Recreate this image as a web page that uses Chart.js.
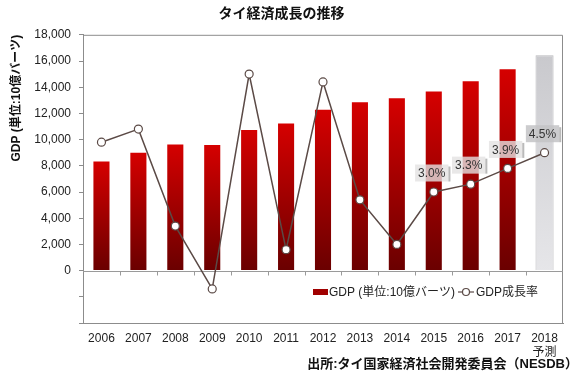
<!DOCTYPE html>
<html lang="ja">
<head>
<meta charset="utf-8">
<title>タイ経済成長の推移</title>
<script src="https://cdn.jsdelivr.net/npm/chart.js@4.4.1/dist/chart.umd.min.js"></script>
<style>
  html, body { margin: 0; padding: 0; background: #fff; }
  #wrap { width: 580px; height: 379px; }
</style>
</head>
<body>
<div id="wrap"><canvas id="gdpChart" width="580" height="379"></canvas></div>
<script>
// Thai GDP chart - data
const years = ['2006', '2007', '2008', '2009', '2010', '2011', '2012',
               '2013', '2014', '2015', '2016', '2017', ['2018', '予測']];
const gdpValues = [8400, 9080, 9710, 9660, 10810, 11310, 12360,
                   12920, 13230, 13740, 14530, 15450, 16440];
const growthRates = [4.9, 5.4, 1.7, -0.7, 7.5, 0.8, 7.2,
                     2.7, 1.0, 3.0, 3.3, 3.9, 4.5];
const yTickLabels = ['0', '2,000', '4,000', '6,000', '8,000', '10,000',
                     '12,000', '14,000', '16,000', '18,000'];

const FONT = '"Liberation Sans", Arial, "Noto Sans CJK JP", sans-serif';
const LINE_COLOR = '#5b4a46';
const firstLabelled = 9;   // growth labels shown from 2015 on
const lastIdx = years.length - 1;

// Bar fill: red gradient, grey for the forecast year
function barFill(ctx) {
    const chart = ctx.chart;
    if (!chart.chartArea || ctx.type !== 'data') return '#b00000';
    const y = chart.scales.y;
    const top = y.getPixelForValue(gdpValues[ctx.dataIndex]);
    const base = y.getPixelForValue(0);
    const g = chart.ctx.createLinearGradient(0, top, 0, base);
    if (ctx.dataIndex === lastIdx) {
        g.addColorStop(0, '#c9c9cd');
        g.addColorStop(1, '#e6e6e9');
    } else {
        g.addColorStop(0, '#d60000');
        g.addColorStop(1, '#6a0000');
    }
    return g;
}

// Plot frame + zero line with small ticks between categories
const plotFrame = {
    id: 'plotFrame',
    beforeDatasetsDraw(chart) {
        const c = chart.ctx, a = chart.chartArea;
        const xs = chart.scales.x, ys = chart.scales.y;
        c.save();
        c.strokeStyle = '#8c8c8c';
        c.lineWidth = 1;
        c.beginPath();
        c.moveTo(a.left, a.top + 0.5);
        c.lineTo(a.right - 0.5, a.top + 0.5);
        c.lineTo(a.right - 0.5, a.bottom);
        c.stroke();
        const zy = Math.round(ys.getPixelForValue(0)) + 0.5;
        c.strokeStyle = '#9a9a9a';
        c.beginPath();
        c.moveTo(a.left, zy);
        c.lineTo(a.right, zy);
        for (let i = 0; i < years.length - 1; i++) {
            const bx = Math.round((xs.getPixelForValue(i) + xs.getPixelForValue(i + 1)) / 2) + 0.5;
            c.moveTo(bx, zy);
            c.lineTo(bx, zy + 4);
        }
        c.stroke();
        c.restore();
    }
};

// Value boxes over the recent growth points
const growthLabels = {
    id: 'growthLabels',
    afterDatasetsDraw(chart) {
        const meta = chart.getDatasetMeta(1);
        const c = chart.ctx;
        c.save();
        c.font = '12px ' + FONT;
        c.textAlign = 'center';
        c.textBaseline = 'middle';
        meta.data.forEach(function(pt, i) {
            if (i < firstLabelled) return;
            const text = growthRates[i].toFixed(1) + '%';
            const w = c.measureText(text).width + 6, h = 17;
            const x = pt.x - 2, y = pt.y - 19;
            c.fillStyle = i === lastIdx ? 'rgba(195,195,198,0.85)' : 'rgba(228,226,226,0.8)';
            c.fillRect(x - w / 2, y - h / 2, w, h);
            c.fillStyle = 'rgba(140,140,140,0.6)';
            c.fillRect(x + w / 2, y - h / 2 + 2, 2, h - 2);
            c.fillStyle = '#333';
            c.fillText(text, x, y + 1);
        });
        c.restore();
    }
};

// Legend inside the lower part of the plot
const innerLegend = {
    id: 'innerLegend',
    afterDraw(chart) {
        const c = chart.ctx, a = chart.chartArea;
        const y = a.bottom - 31;
        let x = 313;
        c.save();
        c.font = '12px ' + FONT;
        c.textBaseline = 'middle';
        c.fillStyle = '#a00000';
        c.fillRect(x, y - 3, 15, 6);
        c.fillStyle = '#222';
        c.fillText(chart.data.datasets[0].label, x + 16, y + 1);
        x = 458;
        c.strokeStyle = LINE_COLOR;
        c.lineWidth = 1.2;
        c.beginPath();
        c.moveTo(x, y);
        c.lineTo(x + 16, y);
        c.stroke();
        c.beginPath();
        c.arc(x + 8, y, 3.5, 0, Math.PI * 2);
        c.fillStyle = '#fff';
        c.fill();
        c.stroke();
        c.fillStyle = '#222';
        c.fillText(chart.data.datasets[1].label, x + 18, y + 1);
        c.restore();
    }
};

// Source note, bottom right
const sourceNote = {
    id: 'sourceNote',
    afterDraw(chart) {
        const c = chart.ctx;
        c.save();
        c.font = 'bold 13px ' + FONT;
        c.fillStyle = '#111';
        c.textAlign = 'right';
        c.textBaseline = 'middle';
        c.fillText('出所:タイ国家経済社会開発委員会（NESDB）', 578, 364);
        c.restore();
    }
};

const ctx = document.getElementById('gdpChart').getContext('2d');
const gdpChart = new Chart(ctx, {
    data: {
        labels: years,
        datasets: [{
            type: 'bar',
            label: 'GDP (単位:10億バーツ)',
            data: gdpValues,
            backgroundColor: barFill,
            borderColor: function(c) { return c.dataIndex === lastIdx ? '#b8b8bc' : 'rgba(0,0,0,0)'; },
            borderWidth: 1,
            categoryPercentage: 1,
            barPercentage: 0.49,
            yAxisID: 'y',
            order: 2
        }, {
            type: 'line',
            label: 'GDP成長率',
            data: growthRates,
            borderColor: LINE_COLOR,
            borderWidth: 1.5,
            pointRadius: 4,
            pointBorderWidth: 1.2,
            pointBackgroundColor: '#fff',
            pointBorderColor: LINE_COLOR,
            tension: 0,
            yAxisID: 'y1',
            order: 1
        }]
    },
    options: {
        responsive: false,
        devicePixelRatio: 1,
        animation: false,
        layout: { padding: { left: 0, right: 17, top: 0, bottom: 20 } },
        scales: {
            x: {
                offset: true,
                grid: { display: false },
                border: { color: '#8c8c8c' },
                ticks: { color: '#222', font: { family: FONT, size: 12 }, padding: 0, maxRotation: 0 },
                afterFit: function(s) { s.height = 36; }
            },
            y: {
                min: -4000,
                max: 18000,
                ticks: {
                    stepSize: 2000,
                    color: '#222',
                    font: { family: FONT, size: 12 },
                    padding: 8,
                    callback: function(v) { return v < 0 ? '' : yTickLabels[v / 2000]; }
                },
                grid: { drawOnChartArea: false, tickLength: 4, color: '#8c8c8c' },
                border: { color: '#8c8c8c' },
                title: {
                    display: true,
                    text: 'GDP (単位:10億バーツ)',
                    align: 'end',
                    color: '#111',
                    font: { family: FONT, size: 12, weight: 'bold' },
                    padding: { top: 9, bottom: 0 }
                },
                afterFit: function(s) { s.width = 83; }
            },
            y1: {
                display: false,
                min: -2,
                max: 9
            }
        },
        plugins: {
            legend: { display: false },
            tooltip: { enabled: false },
            title: {
                display: true,
                text: 'タイ経済成長の推移',
                color: '#111',
                font: { family: FONT, size: 14, weight: 'bold' },
                padding: { top: 6, bottom: 12 }
            }
        }
    },
    plugins: [plotFrame, growthLabels, innerLegend, sourceNote]
});
</script>
</body>
</html>
